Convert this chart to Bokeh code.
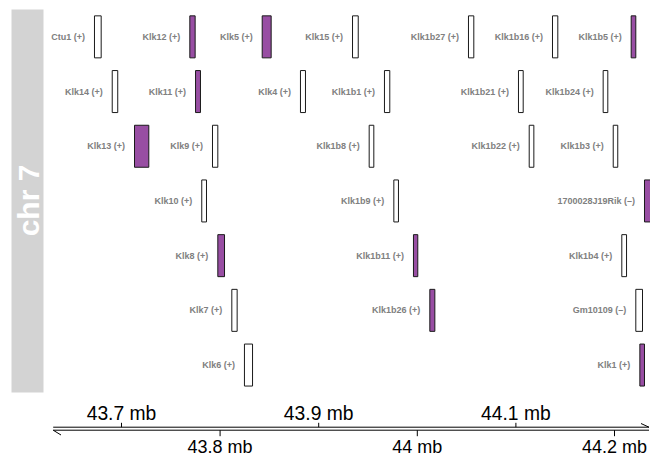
import math
from bokeh.plotting import figure
from bokeh.models import Range1d
from bokeh.core.properties import value
from bokeh.embed import file_html
from bokeh.resources import INLINE

# ---------------- data ----------------
gene_names = ["Ctu1", "Klk12", "Klk5", "Klk15", "Klk1b27", "Klk1b16", "Klk1b5",
              "Klk14", "Klk11", "Klk4", "Klk1b1", "Klk1b21", "Klk1b24",
              "Klk13", "Klk9", "Klk1b8", "Klk1b22", "Klk1b3",
              "Klk10", "Klk1b9", "1700028J19Rik",
              "Klk8", "Klk1b11", "Klk1b4",
              "Klk7", "Klk1b26", "Gm10109",
              "Klk6", "Klk1"]
gene_start = [43.6726, 43.7693, 43.8427, 43.9343, 44.0519, 44.1371, 44.2169,
              43.6906, 43.7751, 43.8815, 43.9667, 44.1026, 44.1885,
              43.7132, 43.7923, 43.9512, 44.1135, 44.1987,
              43.7814, 43.9762, 44.2304,
              43.7977, 43.9961, 44.2074,
              43.8119, 44.0127, 44.2216,
              43.8247, 44.2257]
gene_end = [43.6794, 43.7747, 43.8518, 43.9401, 44.0573, 44.1425, 44.2216,
            43.6962, 43.7801, 43.8866, 43.9721, 44.1074, 44.1932,
            43.7277, 43.7977, 43.9559, 44.1182, 44.2033,
            43.7862, 43.9809, 44.2420,
            43.8045, 44.0005, 44.2122,
            43.8173, 44.0178, 44.2284,
            43.8329, 44.2304]
gene_strand = ["+", "+", "+", "+", "+", "+", "+",
               "+", "+", "+", "+", "+", "+",
               "+", "+", "+", "+", "+",
               "+", "+", "\u2013",
               "+", "+", "+",
               "+", "+", "\u2013",
               "+", "+"]
gene_row = [1, 1, 1, 1, 1, 1, 1,
            2, 2, 2, 2, 2, 2,
            3, 3, 3, 3, 3,
            4, 4, 4,
            5, 5, 5,
            6, 6, 6,
            7, 7]
gene_highlight = [0, 1, 1, 0, 0, 0, 1,
                  0, 1, 0, 0, 0, 0,
                  1, 0, 0, 0, 0,
                  0, 0, 1,
                  1, 1, 0,
                  0, 1, 0,
                  0, 1]

tick_values = [43.7, 43.8, 43.9, 44.0, 44.1, 44.2]
tick_labels = ["43.7 mb", "43.8 mb", "43.9 mb", "44 mb", "44.1 mb", "44.2 mb"]
chrom_label = "chr 7"
view_start, view_end = 43.5773, 44.2365

# ---------------- layout ----------------
W, H = 650, 456
FONT = value("Liberation Sans")

p = figure(width=W, height=H, output_backend="svg", toolbar_location=None,
           x_range=Range1d(view_start, view_end), y_range=Range1d(H, 0),
           x_axis_type=None, y_axis_type=None, min_border=0,
           outline_line_color=None, background_fill_color="white",
           border_fill_color="white")
p.grid.visible = False
p.extra_x_ranges = {"px": Range1d(0, W)}

# title strip
p.quad(left=[11], right=[43], top=[9], bottom=[392], x_range_name="px",
       fill_color="#D3D3D3", line_color=None)
p.text(x=[27.5], y=[200], text=[chrom_label], x_range_name="px", angle=math.pi / 2,
       text_align="center", text_baseline="middle", text_color="white",
       text_font=FONT, text_font_style="bold", text_font_size="30px")

# gene boxes
track_top, row_h, box_h = 9, 54.7, 42
centers = [track_top + (r - 0.5) * row_h for r in gene_row]
fills = ["#984EA3" if h else "white" for h in gene_highlight]
labels = [f"{n} ({s})" for n, s in zip(gene_names, gene_strand)]
p.quad(left=gene_start, right=gene_end,
       top=[c - box_h / 2 for c in centers], bottom=[c + box_h / 2 for c in centers],
       fill_color=fills, line_color="#1a1a1a", line_width=1)
p.text(x=gene_start, y=centers, text=labels, x_offset=-9.5,
       text_align="right", text_baseline="middle", text_color="#808080",
       text_font=FONT, text_font_style="bold", text_font_size="9px")

# genome axis (double line with strand arrows)
y_up, y_lo = 426.7, 429.7
p.segment(x0=[52.7, 52.7], x1=[648.5, 648.5], y0=[y_up, y_lo], y1=[y_up, y_lo],
          x_range_name="px", line_color="black", line_width=1)
p.segment(x0=[52.7, 648.5], y0=[y_lo, y_up], x1=[60.5, 640.5], y1=[434.5, 423.0],
          x_range_name="px", line_color="black", line_width=1)

up_vals = tick_values[0::2]
lo_vals = tick_values[1::2]
p.segment(x0=up_vals, x1=up_vals, y0=[422.3] * len(up_vals), y1=[y_up] * len(up_vals),
          line_color="black", line_width=1)
p.segment(x0=lo_vals, x1=lo_vals, y0=[y_lo] * len(lo_vals), y1=[435.7] * len(lo_vals),
          line_color="black", line_width=1)
p.text(x=up_vals, y=[412.5] * len(up_vals), text=tick_labels[0::2],
       text_align="center", text_baseline="middle", text_color="black",
       text_font=FONT, text_font_size="19.3px")
p.text(x=lo_vals, y=[446.5] * len(lo_vals), text=tick_labels[1::2],
       text_align="center", text_baseline="middle", text_color="black",
       text_font=FONT, text_font_size="18px")

open("out.html", "w").write(file_html(p, INLINE))
